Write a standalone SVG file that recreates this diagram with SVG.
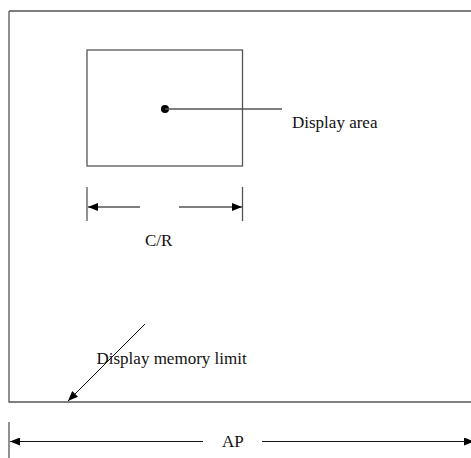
<svg xmlns="http://www.w3.org/2000/svg" width="471" height="458" viewBox="0 0 471 458">
<defs>
<style>
.ln{stroke:#555;stroke-width:1.3;fill:none}
.thin{stroke:#111;stroke-width:1;fill:none}
.t{font-family:"Liberation Serif","Times New Roman",serif;font-size:17px;fill:#111}
</style>
<marker id="ah" viewBox="0 0 10 8" refX="10" refY="4" markerWidth="10" markerHeight="8" markerUnits="userSpaceOnUse" orient="auto">
<path d="M0,0 L10,4 L0,8 Z" fill="#000"/>
</marker>
</defs>
<rect width="471" height="458" fill="#fff"/>
<g id="memory">
<path class="ln" d="M9,11 H472 M9,11 V402 H472"/>
</g>
<g id="display-area">
<rect class="ln" x="87" y="50" width="155.5" height="116"/>
<circle cx="165" cy="109" r="4" fill="#000"/>
</g>
<g id="connectors">
<line class="ln" x1="165" y1="109" x2="282" y2="109"/>
<line class="ln" x1="87" y1="187" x2="87" y2="221"/>
<line class="ln" x1="242.5" y1="187" x2="242.5" y2="221"/>
<line class="ln" x1="140" y1="207" x2="88" y2="207" marker-end="url(#ah)"/>
<line class="ln" x1="179" y1="207" x2="242" y2="207" marker-end="url(#ah)"/>
<line class="thin" x1="145" y1="324" x2="68" y2="401" marker-end="url(#ah)"/>
<line class="ln" x1="9" y1="422" x2="9" y2="458"/>
<line class="thin" x1="203" y1="441.5" x2="10" y2="441.5" marker-end="url(#ah)"/>
<line class="thin" x1="262" y1="441.5" x2="474" y2="441.5" marker-end="url(#ah)"/>
</g>
<g id="labels">
<text class="t" x="292" y="128">Display area</text>
<text class="t" x="145" y="245.5">C/R</text>
<text class="t" x="96.5" y="364">Display memory limit</text>
<text class="t" x="222" y="447">AP</text>
</g>
</svg>
